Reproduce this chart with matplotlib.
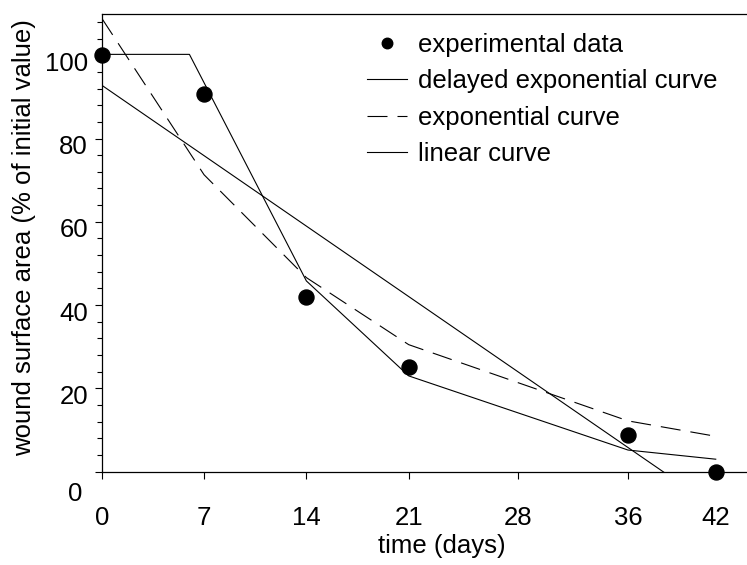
import matplotlib
matplotlib.use("Agg")
import matplotlib.pyplot as plt
from matplotlib.ticker import FixedLocator, MultipleLocator
from matplotlib.transforms import ScaledTranslation

plt.rcParams["font.family"] = ["Liberation Sans", "DejaVu Sans"]

# experimental points
dias_medidos = [0, 7, 14, 21, 36, 42]
area_medida = [100, 90.6, 42.0, 25.2, 8.8, 0]

# delayed exponential fit
dias_atraso = [0, 6, 14, 21, 36, 42]
area_atraso = [100.2, 100.2, 45.8, 23.0, 5.2, 3.0]

# plain exponential fit
dias_expo = [0, 7, 14, 21, 36, 42]
area_expo = [108.9, 71.3, 46.6, 30.5, 12.2, 8.5]

# linear fit (clipped at 0)
dias_linear = [0, 42]
area_linear = [92.8, -8.7]

posicoes_x = [0, 7, 14, 21, 28.5, 36, 42]
rotulos_x = ["0", "7", "14", "21", "28", "36", "42"]
valores_y = [0, 20, 40, 60, 80, 100]

fig = plt.figure(figsize=(7.47, 5.65), dpi=100)
ax = fig.add_axes([101.7 / 747, 93.3 / 565, 657.9 / 747, 458.15 / 565])

pontos, = ax.plot(dias_medidos, area_medida, "o", color="black", markersize=10.8,
                  clip_on=False, zorder=5)
atraso, = ax.plot(dias_atraso, area_atraso, color="black", lw=0.8)
expo, = ax.plot(dias_expo, area_expo, color="black", lw=0.8, dashes=(18, 9))
linear, = ax.plot(dias_linear, area_linear, color="black", lw=0.8)

ax.set_xlim(0, 45)
ax.set_ylim(0, 110)

ax.xaxis.set_major_locator(FixedLocator(posicoes_x))
ax.set_xticklabels(rotulos_x)
ax.yaxis.set_major_locator(FixedLocator(valores_y))
ax.yaxis.set_minor_locator(MultipleLocator(4))
ax.set_yticklabels([str(v) for v in valores_y])

ax.tick_params(axis="both", which="both", direction="out", width=0.8, labelsize=18.5)
ax.tick_params(axis="x", which="major", length=4.8, pad=20)
ax.tick_params(axis="y", which="major", length=4.8, pad=5)
ax.tick_params(axis="y", which="minor", length=3.6)
ax.tick_params(top=False, right=False)

for spine in ax.spines.values():
    spine.set_linewidth(0.9)
ax.spines["right"].set_visible(False)

# y labels sit a little under their ticks, the 0 one much lower
for i, tick in enumerate(ax.yaxis.get_major_ticks()):
    dx, dy = (-4.3, -14.5) if i == 0 else (0, -4.3)
    tick.label1.set_transform(tick.label1.get_transform()
                              + ScaledTranslation(dx / 72, dy / 72, fig.dpi_scale_trans))

ax.set_xlabel("time (days)", fontsize=18.5)
ax.xaxis.label.set_verticalalignment("center")
ax.xaxis.set_label_coords(0.517, -0.163)

ax.set_ylabel("wound surface area (% of initial value)", fontsize=18.5)
ax.yaxis.label.set_verticalalignment("center")
ax.yaxis.set_label_coords(-0.118, 0.512)

ax.legend([pontos, atraso, expo, linear],
          ["experimental data", "delayed exponential curve", "exponential curve", "linear curve"],
          loc="upper left", bbox_to_anchor=(366.7 / 747, 1 - 33 / 565),
          bbox_transform=fig.transFigure, frameon=False, borderpad=0, borderaxespad=0,
          handlelength=1.56, handletextpad=0.45, labelspacing=0.48, markerscale=0.7,
          fontsize=18.5)

fig.savefig("out.png", dpi=100)
